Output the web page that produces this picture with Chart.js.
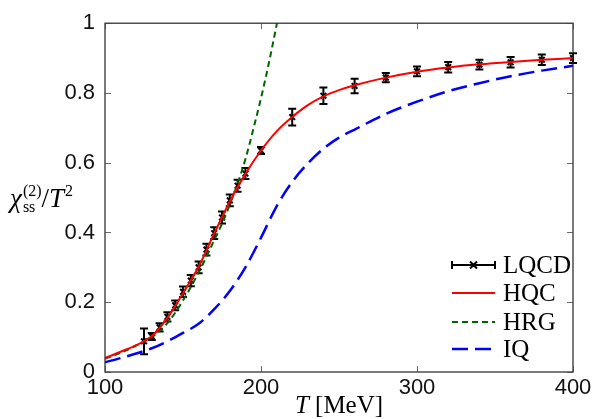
<!DOCTYPE html>
<html><head><meta charset="utf-8">
<script src="https://cdn.jsdelivr.net/npm/chart.js@4"></script>
<style>html,body{margin:0;padding:0;background:#fff}</style>
</head><body>
<canvas id="c" width="600" height="419"></canvas>
<script>
// ---- data ----
const lqcdT   = [125,130,135,140,145,150,155,160,165,170,175,180,185,190,200,220,240,260,280,300,320,340,360,380,400];
const lqcdVal = [0.088,0.102,0.128,0.158,0.191,0.230,0.262,0.300,0.351,0.398,0.443,0.492,0.534,0.569,0.635,0.731,0.792,0.820,0.844,0.862,0.874,0.881,0.888,0.895,0.900];
const lqcdErr = [0.037,0.010,0.012,0.013,0.014,0.015,0.016,0.017,0.017,0.017,0.017,0.017,0.017,0.016,0.010,0.024,0.024,0.021,0.013,0.014,0.015,0.014,0.015,0.015,0.014];

const hqcT   = [100,110,120,130,140,150,160,170,180,190,200,210,220,230,240,250,260,280,300,320,340,360,380,400];
const hqcVal = [0.040,0.058,0.077,0.103,0.155,0.226,0.302,0.397,0.489,0.568,0.635,0.690,0.731,0.765,0.790,0.808,0.822,0.844,0.861,0.873,0.882,0.889,0.895,0.900];

const hrgT   = [100,110,120,130,140,150,160,170,175,180,185,190,195,200,205,210,215];
const hrgVal = [0.038,0.055,0.076,0.100,0.140,0.205,0.285,0.378,0.425,0.480,0.540,0.610,0.695,0.785,0.885,0.995,1.110];

const iqT   = [100,110,120,130,140,150,160,170,180,190,200,210,220,230,240,250,260,280,300,320,340,360,380,400];
const iqVal = [0.028,0.040,0.053,0.068,0.088,0.112,0.138,0.180,0.232,0.300,0.385,0.475,0.545,0.598,0.640,0.672,0.695,0.740,0.775,0.805,0.828,0.848,0.864,0.878];

const xTicks = [100,200,300,400];
const xTickLabels = ['100','200','300','400'];
const yTicks = [0,0.2,0.4,0.6,0.8,1];
const yTickLabels = ['0','0.2','0.4','0.6','0.8','1'];

const legendNames = ['LQCD','HQC','HRG','IQ'];

// ---- helpers ----
const pts = (xs, ys) => xs.map((x,i)=>({x:x, y:ys[i]}));
const SERIF = '"Liberation Serif", "DejaVu Serif", serif';
const SANS = '"Liberation Sans", Arial, sans-serif';

const errorBars = {
  id:'errorBars',
  beforeDatasetsDraw(chart){
    const {ctx, scales:{x,y}} = chart;
    ctx.save();
    ctx.strokeStyle = '#000'; ctx.lineWidth = 2;
    lqcdT.forEach((t,i)=>{
      const px = x.getPixelForValue(t);
      const y1 = y.getPixelForValue(lqcdVal[i]-lqcdErr[i]);
      const y2 = y.getPixelForValue(lqcdVal[i]+lqcdErr[i]);
      ctx.beginPath();
      ctx.moveTo(px,y1); ctx.lineTo(px,y2);
      ctx.moveTo(px-4,y1); ctx.lineTo(px+4,y1);
      ctx.moveTo(px-4,y2); ctx.lineTo(px+4,y2);
      ctx.stroke();
    });
    ctx.restore();
  }
};

const frame = {
  id:'frame',
  afterDraw(chart){
    const {ctx, chartArea:a, scales:{x,y}} = chart;
    ctx.save();
    ctx.strokeStyle = '#222'; ctx.lineWidth = 1.2;
    ctx.strokeRect(a.left, a.top, a.right-a.left, a.bottom-a.top);
    ctx.lineWidth = 0.8; ctx.strokeStyle = '#444';
    ctx.beginPath();
    xTicks.forEach(v=>{
      const px = Math.round(x.getPixelForValue(v))+0.5;
      ctx.moveTo(px,a.bottom); ctx.lineTo(px,a.bottom-6);
      ctx.moveTo(px,a.top); ctx.lineTo(px,a.top+6);
    });
    yTicks.forEach(v=>{
      const py = Math.round(y.getPixelForValue(v))+0.5;
      ctx.moveTo(a.left,py); ctx.lineTo(a.left+6,py);
      ctx.moveTo(a.right,py); ctx.lineTo(a.right-6,py);
    });
    ctx.stroke();

    // x title: T [MeV]
    ctx.fillStyle = '#000';
    ctx.textBaseline = 'alphabetic';
    const cx = (a.left+a.right)/2;
    ctx.font = 'italic 25px '+SERIF;
    const wT = ctx.measureText('T').width;
    ctx.font = '25px '+SERIF;
    const rest = ' [MeV]';
    const wR = ctx.measureText(rest).width;
    let sx = cx - (wT+wR)/2;
    ctx.font = 'italic 25px '+SERIF; ctx.fillText('T', sx, 413);
    ctx.font = '25px '+SERIF; ctx.fillText(rest, sx+wT, 413);

    // y title: chi_ss^(2)/T^2
    let bx = 10, by = 207;
    ctx.font = 'italic 27px '+SERIF; ctx.fillText('χ', bx, by);
    bx += ctx.measureText('χ').width + 1;
    ctx.font = '16px '+SERIF;
    ctx.fillText('(2)', bx, by-11);
    ctx.fillText('ss', bx, by+5);
    bx += Math.max(ctx.measureText('(2)').width, ctx.measureText('ss').width);
    ctx.font = '27px '+SERIF; ctx.fillText('/', bx, by);
    bx += ctx.measureText('/').width;
    ctx.font = 'italic 27px '+SERIF; ctx.fillText('T', bx, by);
    bx += ctx.measureText('T').width + 1;
    ctx.font = '16px '+SERIF; ctx.fillText('2', bx, by-11);

    // legend
    const rows = [265,293,322,349];
    const x0 = 452, x1 = 495;
    ctx.font = '25px '+SERIF; ctx.textBaseline = 'middle';
    rows.forEach((ry,i)=>{
      ctx.save();
      if(i===0){
        ctx.strokeStyle='#000'; ctx.lineWidth=2;
        ctx.beginPath();
        ctx.moveTo(x0,ry); ctx.lineTo(x1,ry);
        ctx.moveTo(x0,ry-4); ctx.lineTo(x0,ry+4);
        ctx.moveTo(x1,ry-4); ctx.lineTo(x1,ry+4);
        const m=(x0+x1)/2;
        ctx.moveTo(m-3.5,ry-3.5); ctx.lineTo(m+3.5,ry+3.5);
        ctx.moveTo(m-3.5,ry+3.5); ctx.lineTo(m+3.5,ry-3.5);
        ctx.stroke();
      } else {
        const ds = chart.data.datasets[i];
        ctx.strokeStyle = ds.borderColor; ctx.lineWidth = ds.borderWidth;
        ctx.setLineDash(ds.borderDash||[]);
        ctx.beginPath(); ctx.moveTo(x0,ry); ctx.lineTo(x1,ry); ctx.stroke();
      }
      ctx.restore();
      ctx.fillStyle='#000';
      ctx.fillText(legendNames[i], 503, ry+1);
    });
    ctx.restore();
  }
};

new Chart(document.getElementById('c'), {
  type:'line',
  data:{
    datasets:[
      {label:legendNames[0], data:pts(lqcdT,lqcdVal), showLine:false, pointStyle:'crossRot', pointRadius:4,
       borderColor:'#000', backgroundColor:'#000', pointBorderWidth:2, order:10},
      {label:legendNames[1], data:pts(hqcT,hqcVal), borderColor:'#ff0000', borderWidth:2, pointRadius:0,
       cubicInterpolationMode:'monotone', order:2},
      {label:legendNames[2], data:pts(hrgT,hrgVal), borderColor:'#006400', borderWidth:2, borderDash:[6,4], pointRadius:0,
       cubicInterpolationMode:'monotone', order:3},
      {label:legendNames[3], data:pts(iqT,iqVal), borderColor:'#0000ff', borderWidth:2.5, borderDash:[16,7], pointRadius:0,
       cubicInterpolationMode:'monotone', order:1}
    ]
  },
  options:{
    responsive:false, animation:false, devicePixelRatio:1,
    layout:{padding:{top:16,right:27,left:0,bottom:0}},
    plugins:{legend:{display:false}, tooltip:{enabled:false}},
    scales:{
      x:{type:'linear', min:100, max:400,
         grid:{display:false, drawTicks:false}, border:{display:false},
         afterBuildTicks:s=>{s.ticks = xTicks.map(v=>({value:v}));},
         afterFit:s=>{s.height = 47;},
         ticks:{padding:3, color:'#111', font:{family:SANS, size:22}, maxRotation:0, autoSkip:false,
                callback:(v,i)=>xTickLabels[i]}},
      y:{type:'linear', min:0, max:1,
         grid:{display:false, drawTicks:false}, border:{display:false},
         afterBuildTicks:s=>{s.ticks = yTicks.map(v=>({value:v}));},
         afterFit:s=>{s.width = 105;},
         ticks:{padding:10, color:'#111', font:{family:SANS, size:22}, autoSkip:false,
                callback:(v,i)=>yTickLabels[i]}}
    }
  },
  plugins:[errorBars, frame]
});
</script>
</body></html>
